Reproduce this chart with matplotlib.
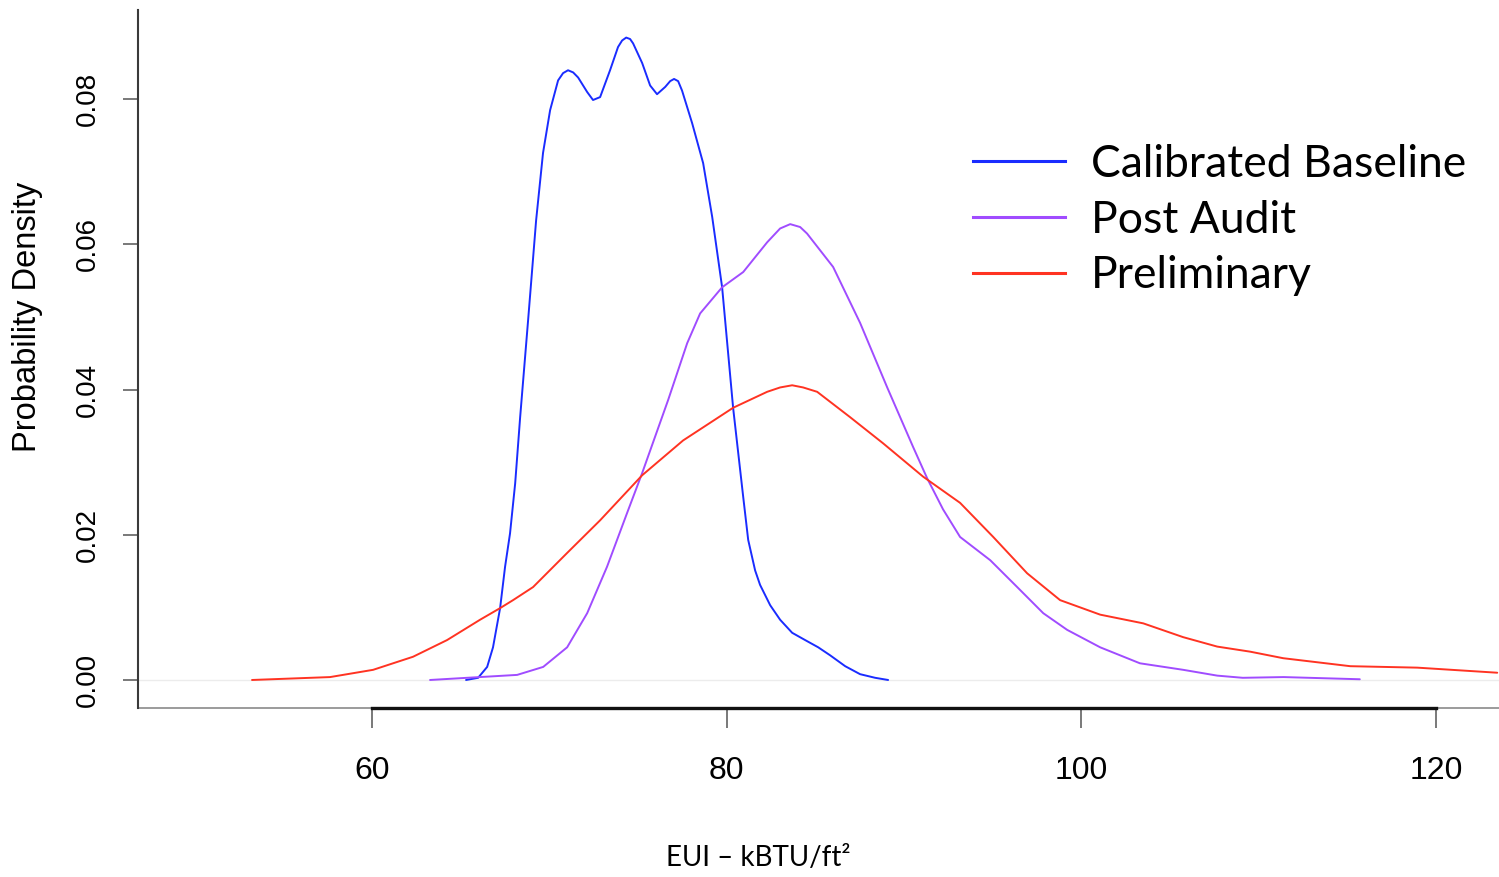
import matplotlib
matplotlib.use("Agg")
import matplotlib.pyplot as plt
from matplotlib.lines import Line2D

# ---------------- data ----------------
baseline_x = [65.30, 65.98, 66.49, 66.82, 67.22, 67.50, 67.78, 68.07, 68.35, 68.80,
              69.25, 69.64, 70.04, 70.49, 70.77, 71.05, 71.34, 71.62, 72.13, 72.46,
              72.86, 73.42, 73.87, 74.10, 74.33, 74.55, 74.72, 75.23, 75.68, 76.07,
              76.53, 76.81, 77.03, 77.26, 77.48, 78.05, 78.67, 79.18, 79.74, 80.36,
              80.93, 81.21, 81.60, 81.88, 82.45, 83.01, 83.69, 84.42, 85.16, 85.83,
              86.68, 87.52, 88.37, 89.10]
baseline_y = [0.0000, 0.0003, 0.0018, 0.0045, 0.0099, 0.0156, 0.0202, 0.0271, 0.0362, 0.0496,
              0.0633, 0.0726, 0.0785, 0.0826, 0.0836, 0.0840, 0.0837, 0.0830, 0.0810, 0.0799,
              0.0803, 0.0840, 0.0872, 0.0881, 0.0885, 0.0883, 0.0877, 0.0850, 0.0819, 0.0807,
              0.0817, 0.0825, 0.0828, 0.0825, 0.0812, 0.0767, 0.0712, 0.0638, 0.0541, 0.0375,
              0.0252, 0.0193, 0.0151, 0.0131, 0.0103, 0.0083, 0.0065, 0.0055, 0.0045, 0.0034,
              0.0019, 0.0008, 0.0003, 0.0000]

post_audit_x = [63.27, 65.36, 68.18, 69.65, 71.00, 72.13, 73.25, 74.38, 75.23, 76.70,
                77.77, 78.50, 79.74, 80.93, 82.28, 83.01, 83.58, 84.14, 84.53, 86.00,
                87.52, 89.05, 90.51, 91.30, 92.20, 93.16, 94.86, 96.38, 97.85, 99.20,
                101.06, 103.30, 105.74, 107.66, 109.10, 111.40, 115.70]
post_audit_y = [0.0000, 0.0003, 0.0007, 0.0018, 0.0045, 0.0092, 0.0156, 0.0230, 0.0285, 0.0386,
                0.0464, 0.0505, 0.0541, 0.0562, 0.0603, 0.0622, 0.0628, 0.0624, 0.0615, 0.0569,
                0.0492, 0.0403, 0.0321, 0.0278, 0.0235, 0.0197, 0.0165, 0.0128, 0.0092, 0.0069,
                0.0045, 0.0023, 0.0014, 0.0006, 0.0003, 0.0004, 0.0001]

prelim_x = [53.23, 57.63, 60.06, 62.31, 64.23, 66.09, 67.22, 67.95, 69.08,
            71.00, 72.86, 75.23, 77.54, 80.36, 82.28, 83.01, 83.69, 84.31, 85.10,
            86.96, 88.82, 91.08, 93.16, 95.03, 96.94, 98.80, 101.06, 103.49, 105.74,
            107.66, 109.52, 111.38, 115.16, 118.94, 123.45]
prelim_y = [0.0000, 0.0004, 0.0014, 0.0032, 0.0055, 0.0083, 0.0099, 0.0110, 0.0128,
            0.0175, 0.0220, 0.0282, 0.0330, 0.0375, 0.0397, 0.0403, 0.0406, 0.0403, 0.0397,
            0.0362, 0.0326, 0.0280, 0.0244, 0.0197, 0.0147, 0.0110, 0.0090, 0.0078, 0.0059,
            0.0046, 0.0039, 0.0030, 0.0019, 0.0017, 0.0010]

series_labels = ["Calibrated Baseline", "Post Audit", "Preliminary"]
series_colors = ["#1a2cff", "#a04cff", "#ff3322"]
x_ticks = [60, 80, 100, 120]
y_ticks = [0.00, 0.02, 0.04, 0.06, 0.08]
y_tick_labels = ["0.00", "0.02", "0.04", "0.06", "0.08"]

# ---------------- figure ----------------
fig = plt.figure(figsize=(14.99, 8.77), dpi=100)
ax = fig.add_axes([138 / 1499, 1 - 708 / 877, 1 - 138 / 1499, (708 - 10) / 877])

for xs, ys, c in zip([baseline_x, post_audit_x, prelim_x],
                     [baseline_y, post_audit_y, prelim_y], series_colors):
    ax.plot(xs, ys, color=c, lw=1.4, solid_capstyle="round",
            solid_joinstyle="round", zorder=3)

ax.axhline(0, color="#ececec", lw=1.0, zorder=1)

ax.set_xlim(46.80, 123.55)
ax.set_ylim(-0.00386, 0.0923)

# spines (R style)
for s in ["top", "right"]:
    ax.spines[s].set_visible(False)
ax.spines["left"].set_color("#3a3a3a")
ax.spines["left"].set_linewidth(1.5)
ax.spines["bottom"].set_bounds(60, 120)
ax.spines["bottom"].set_color("#111111")
ax.spines["bottom"].set_linewidth(2.4)
ax.plot([0, 1], [0, 0], transform=ax.transAxes, color="#8a8a8a", lw=1.2,
        clip_on=False, zorder=0)

ax.set_xticks(x_ticks)
ax.set_xticklabels([str(t) for t in x_ticks],
                   fontfamily=["Liberation Sans Narrow", "Liberation Sans"], fontsize=23)
ax.set_yticks(y_ticks)
ax.set_yticklabels(y_tick_labels, rotation=90, va="center",
                   fontfamily=["Liberation Sans", "DejaVu Sans"], fontsize=20)
ax.tick_params(axis="x", direction="out", length=14.4, width=1.1, color="#555555",
               pad=20, labelcolor="black")
ax.tick_params(axis="y", direction="out", length=10.5, width=1.1, color="#555555",
               pad=16, labelcolor="black")

ax.set_ylabel("Probability Density", fontfamily=["Liberation Sans", "DejaVu Sans"],
              fontsize=23.5, va="center", ha="center")
ax.yaxis.set_label_coords((28 - 138) / 1361, (708 - 317) / 698)
ax.set_xlabel("EUI – kBTU/ft²", fontfamily=["Lato", "DejaVu Sans"], fontsize=20,
              va="center", ha="center")
ax.xaxis.set_label_coords((758 - 138) / 1361, (708 - 858) / 698)

handles = [Line2D([], [], color=c, lw=2.2) for c in series_colors]
leg = ax.legend(handles, series_labels, loc="upper left",
                bbox_to_anchor=(973 / 1499, 1 - 144 / 877), bbox_transform=fig.transFigure,
                frameon=False, borderpad=0, borderaxespad=0, handlelength=2.07,
                handletextpad=0.59, labelspacing=0.33,
                prop={"family": ["Lato", "DejaVu Sans"], "size": 32})

fig.savefig("out.png", dpi=100)
